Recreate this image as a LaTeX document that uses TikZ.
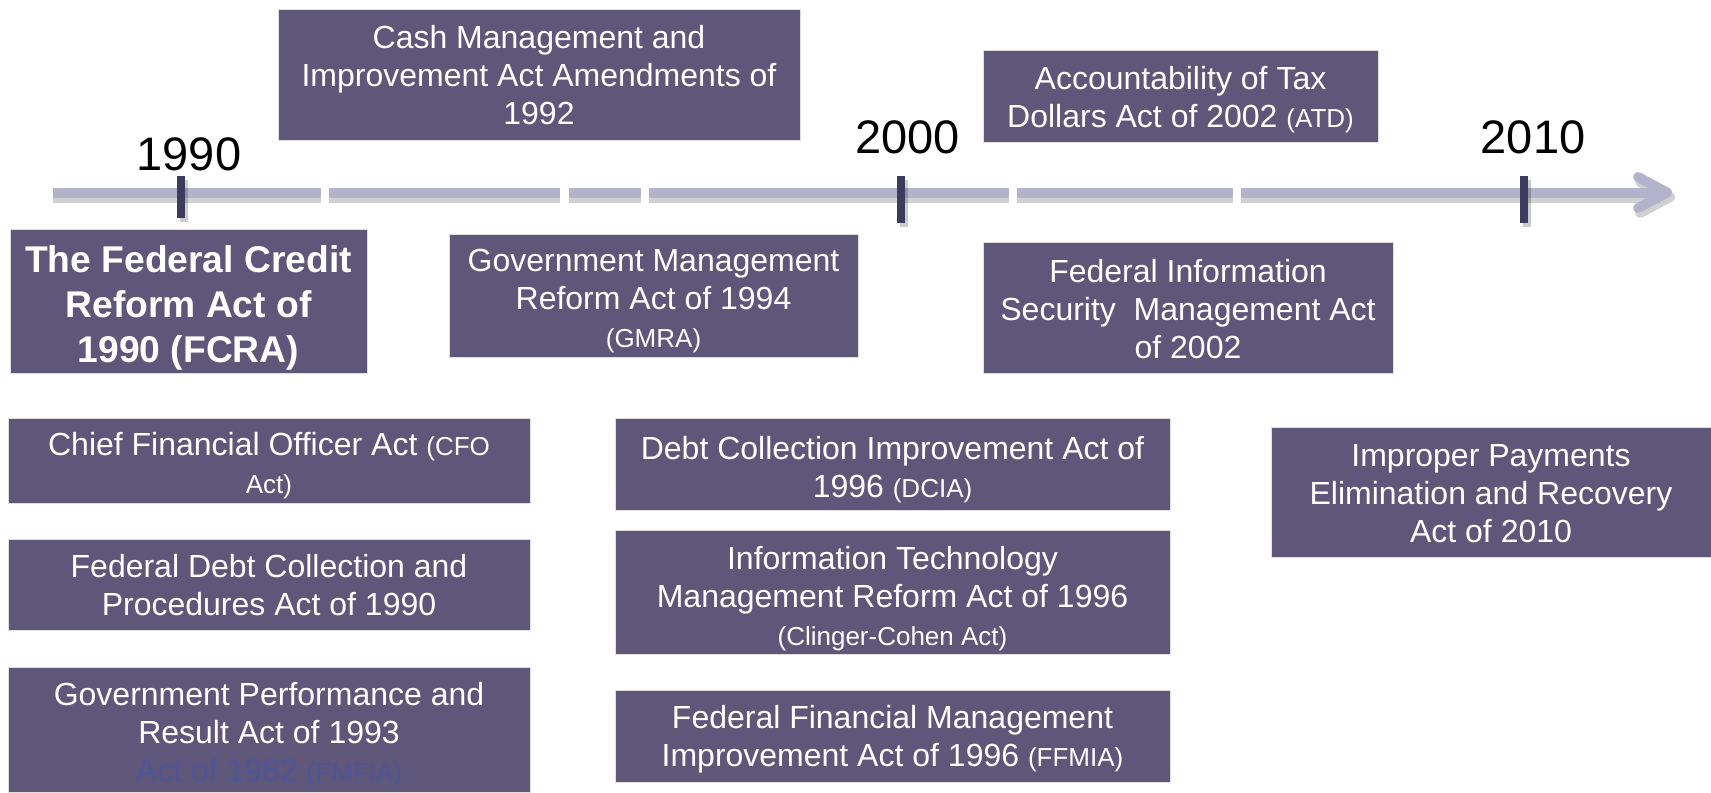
\documentclass[tikz,border=0pt]{standalone}
\usepackage{fontspec}
\setmainfont{Liberation Sans}
\definecolor{boxfill}{HTML}{5F577A}
\definecolor{barcol}{HTML}{B4B3CC}
\definecolor{tickcol}{HTML}{3E3B5E}
\definecolor{ghost}{HTML}{4E5598}
\newcommand{\smtxt}[1]{{\fontsize{13}{19}\selectfont #1}}
\begin{document}
\begin{tikzpicture}[x=0.5pt,y=-0.5pt,
  actbox/.style={fill=boxfill, draw=gray!25, line width=0.5pt, inner sep=0pt},
  acttext/.style={text=white, align=center, inner sep=0pt, font=\fontsize{16}{19}\selectfont},
  boldtext/.style={acttext, font=\fontsize{18.6}{22.5}\selectfont\bfseries},
  yearlbl/.style={font=\fontsize{23.5}{28}\selectfont, anchor=base, inner sep=0pt, text=black},
  bar/.style={barcol, line width=5pt},
  barshadow/.style={black, opacity=0.18, line width=5pt},
  tickmark/.style={tickcol, line width=4pt},
  tickshadow/.style={black, opacity=0.2, line width=4pt}]
\useasboundingbox (0,0) rectangle (1711,792);

% timeline shadow
\foreach \a/\b in {53/321, 329/560, 569/641, 649/1009, 1017/1233, 1241/1660}
  \draw[barshadow] (\a,198) -- (\b,198);
\draw[barshadow, line cap=round, line join=round] (1640,182) -- (1670,197) -- (1640,213);
% timeline
\foreach \a/\b in {53/321, 329/560, 569/641, 649/1009, 1017/1233, 1241/1662}
  \draw[bar] (\a,193) -- (\b,193);
\draw[bar, line cap=round, line join=round] (1638,177) -- (1667,192.5) -- (1638,208);

% ticks
\draw[tickshadow] (184,180) -- (184,222);
\draw[tickshadow] (903.5,180) -- (903.5,227);
\draw[tickshadow] (1527,180) -- (1527,227);
\coordinate (t1a) at (181,176); \coordinate (t1b) at (181,218);
\coordinate (t2a) at (900.5,176); \coordinate (t2b) at (900.5,223);
\coordinate (t3a) at (1524,176); \coordinate (t3b) at (1524,223);
\draw[tickmark] (t1a) -- (t1b);
\draw[tickmark] (t2a) -- (t2b);
\draw[tickmark] (t3a) -- (t3b);

% years
\node[yearlbl] (y1990) at (189,170) {1990};
\node[yearlbl] (y2000) at (907.5,153) {2000};
\node[yearlbl] (y2010) at (1533,153) {2010};

% boxes
\node[actbox, minimum width=261pt, minimum height=65pt] (cash) at (539,75) {};
\node[acttext] (cash-t) at ([yshift=0pt]cash.center)
  {Cash Management and\\Improvement Act Amendments of\\1992};

\node[actbox, minimum width=197.5pt, minimum height=45.5pt] (atd) at (1180.5,96.5) {};
\node[acttext] (atd-t) at ([yshift=-1.6pt]atd.center)
  {Accountability of Tax\\Dollars Act of 2002 \smtxt{(ATD)}};

\node[actbox, minimum width=178.5pt, minimum height=72pt] (fcra) at (188.5,301) {};
\node[boldtext] (fcra-t) at ([yshift=-3.2pt]fcra.center)
  {The Federal Credit\\Reform Act of\\1990 (FCRA)};

\node[actbox, minimum width=204.5pt, minimum height=61.5pt] (gmra) at (653.5,295.5) {};
\node[acttext] (gmra-t) at ([yshift=-2.7pt]gmra.center)
  {Government Management\\Reform Act of 1994\\\smtxt{(GMRA)}};

\node[actbox, minimum width=205pt, minimum height=65.5pt] (fisma) at (1188,307.5) {};
\node[acttext] (fisma-t) at ([yshift=-0.9pt]fisma.center)
  {Federal Information\\Security\ \ Management Act\\of 2002};

\node[actbox, minimum width=261pt, minimum height=42.5pt] (cfo) at (269,460.5) {};
\node[acttext] (cfo-t) at ([yshift=-2.5pt]cfo.center)
  {Chief Financial Officer Act \smtxt{(CFO}\\\smtxt{Act)}};

\node[actbox, minimum width=261pt, minimum height=45.5pt] (fdc) at (269,584.5) {};
\node[acttext] (fdc-t) at ([yshift=-0.5pt]fdc.center)
  {Federal Debt Collection and\\Procedures Act of 1990};

\node[actbox, minimum width=261pt, minimum height=62.5pt] (gpra) at (269,729.5) {};
\node[acttext] (gpra-t) at ([yshift=-2.3pt]gpra.center)
  {Government Performance and\\Result Act of 1993\\\textcolor{ghost}{Act of 1982 \smtxt{(FMFIA)}}};

\node[actbox, minimum width=277.5pt, minimum height=46pt] (dcia) at (892.5,464) {};
\node[acttext] (dcia-t) at ([yshift=-2.7pt]dcia.center)
  {Debt Collection Improvement Act of\\1996 \smtxt{(DCIA)}};

\node[actbox, minimum width=277.5pt, minimum height=62pt] (itmra) at (892.5,592) {};
\node[acttext] (itmra-t) at ([yshift=-3.4pt]itmra.center)
  {Information Technology\\Management Reform Act of 1996\\\smtxt{(Clinger-Cohen Act)}};

\node[actbox, minimum width=277.5pt, minimum height=46pt] (ffmia) at (892.5,736) {};
\node[acttext] (ffmia-t) at ([yshift=-1.4pt]ffmia.center)
  {Federal Financial Management\\Improvement Act of 1996 \smtxt{(FFMIA)}};

\node[actbox, minimum width=220pt, minimum height=65pt] (ipera) at (1491,492) {};
\node[acttext] (ipera-t) at ([yshift=-0.9pt]ipera.center)
  {Improper Payments\\Elimination and Recovery\\Act of 2010};
\end{tikzpicture}
\end{document}
